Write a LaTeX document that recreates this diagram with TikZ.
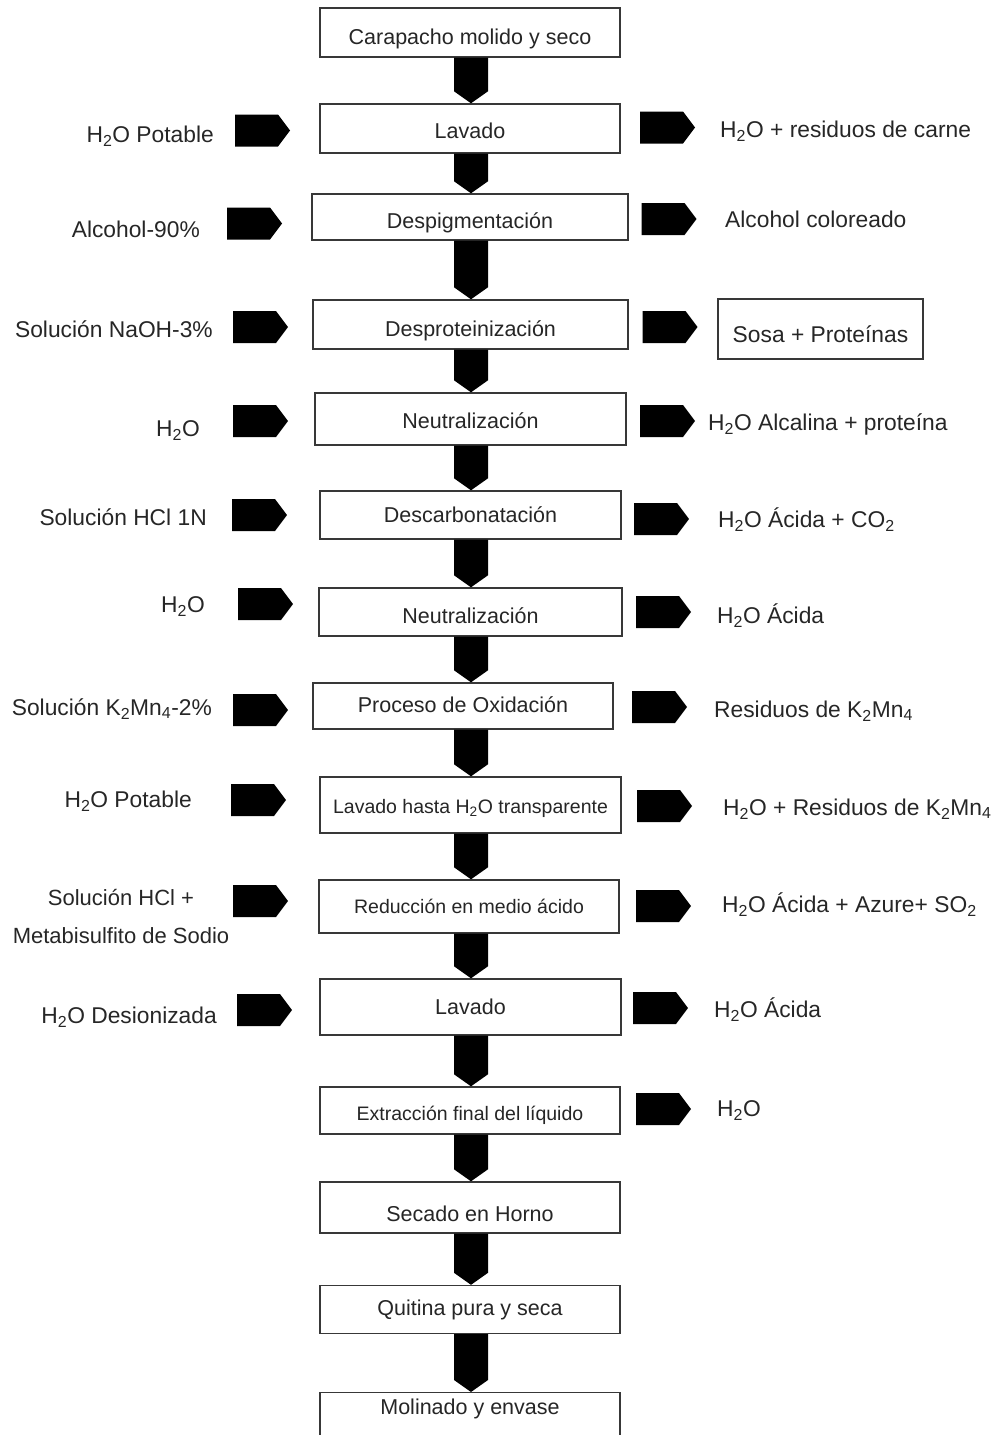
\documentclass[tikz,border=0pt]{standalone}
\usepackage{fontspec}
\setmainfont{Liberation Sans}
\usetikzlibrary{calc}
\definecolor{txt}{HTML}{262626}
\definecolor{boxline}{HTML}{383838}
\tikzset{
  procbox/.style={draw=boxline, line width=1.4pt, fill=white, text=txt, inner sep=0pt,
    font=\fontsize{21.5}{24}\selectfont, text height=15.5pt, text depth=0pt},
  smallproc/.style={procbox, font=\fontsize{19.5}{22}\selectfont},
  sidelbl/.style={text=txt, inner sep=0pt, font=\fontsize{22.8}{38}\selectfont},
  blockarrow/.style={fill=black},
}
\newcommand\downarr[2]{\fill[blockarrow] let \p1=(#1.south), \p2=(#2.north) in
  (454pt,\y1) -- (488pt,\y1) -- (488pt,\y2+12pt) -- (471pt,\y2) -- (454pt,\y2+12pt) -- cycle;}
\newcommand\sidearr[2]{\fill[blockarrow] (#1,#2-16) -- (#1+43,#2-16) -- (#1+55,#2) -- (#1+43,#2+16) -- (#1,#2+16) -- cycle;}
\begin{document}
\begin{tikzpicture}[x=1pt,y=-1pt]
\useasboundingbox (0,0) rectangle (995,1435);
% process boxes
\node[procbox, minimum width=300pt, minimum height=49pt, text height=24pt] (b1) at (470,32.5) {Carapacho molido y seco};
\node[procbox, minimum width=300pt, minimum height=49pt, text height=20pt] (b2) at (470,128.5) {Lavado};
\node[procbox, minimum width=316pt, minimum height=46pt, text height=23pt] (b3) at (470,217) {Despigmentación};
\node[procbox, minimum width=315pt, minimum height=49pt, text height=23pt] (b4) at (470.5,324.5) {Desproteinización};
\node[procbox, minimum width=311pt, minimum height=52pt, text height=18.6pt] (b5) at (470.5,419) {Neutralización};
\node[procbox, minimum width=301pt, minimum height=48pt, text height=15.4pt] (b6) at (470.5,515) {Descarbonatación};
\node[procbox, minimum width=303pt, minimum height=48pt, text height=22.6pt] (b7) at (470.5,612) {Neutralización};
\node[procbox, minimum width=300pt, minimum height=46pt, text height=13.4pt] (b8) at (463,706) {Proceso de Oxidación};
\node[smallproc, minimum width=301pt, minimum height=56pt, text height=16pt] (b9) at (470.5,805) {Lavado hasta H\textsubscript{2}O transparente};
\node[smallproc, minimum width=300pt, minimum height=53pt, text height=13.6pt] (b10) at (469,906.5) {Reducción en medio ácido};
\node[procbox, minimum width=301pt, minimum height=56pt, text height=14pt] (b11) at (470.5,1007) {Lavado};
\node[smallproc, minimum width=300pt, minimum height=47pt, text height=19.6pt] (b12) at (470,1110.5) {Extracción final del líquido};
\node[procbox, minimum width=300pt, minimum height=51pt, text height=28pt] (b13) at (470,1207.5) {Secado en Horno};
\node[procbox, minimum width=300pt, minimum height=48pt, text height=11pt] (b14) at (470,1309.5) {Quitina pura y seca};
\node[procbox, minimum width=300pt, anchor=north, inner ysep=7pt, text height=15pt, text depth=20pt] (b15) at (470,1392) {Molinado y envase};
% vertical block arrows
\downarr{b1}{b2}
\downarr{b2}{b3}
\downarr{b3}{b4}
\downarr{b4}{b5}
\downarr{b5}{b6}
\downarr{b6}{b7}
\downarr{b7}{b8}
\downarr{b8}{b9}
\downarr{b9}{b10}
\downarr{b10}{b11}
\downarr{b11}{b12}
\downarr{b12}{b13}
\downarr{b13}{b14}
\downarr{b14}{b15}
% left inputs
\node[sidelbl, anchor=base east] (l1) at (214,142) {H\textsubscript{2}O Potable};
\node[sidelbl, anchor=base east] (l2) at (200,237) {Alcohol-90\%};
\node[sidelbl, anchor=base east] (l3) at (213,337) {Solución NaOH-3\%};
\node[sidelbl, anchor=base east] (l4) at (200,436) {H\textsubscript{2}O};
\node[sidelbl, anchor=base east] (l5) at (207,525) {Solución HCl 1N};
\node[sidelbl, anchor=base east] (l6) at (205,612) {H\textsubscript{2}O};
\node[sidelbl, anchor=base east] (l7) at (212,715) {Solución K\textsubscript{2}Mn\textsubscript{4}-2\%};
\node[sidelbl, anchor=base east] (l8) at (192,807) {H\textsubscript{2}O Potable};
\node[sidelbl, anchor=base, align=center, font=\fontsize{22}{38}\selectfont] (l9) at (121,943) {Solución HCl +\\Metabisulfito de Sodio};
\node[sidelbl, anchor=base east] (l10) at (217,1023) {H\textsubscript{2}O Desionizada};
\sidearr{235}{130.5}
\sidearr{227}{223.5}
\sidearr{233}{327}
\sidearr{233}{421}
\sidearr{232}{515}
\sidearr{238}{604}
\sidearr{233}{710}
\sidearr{231}{800}
\sidearr{233}{901}
\sidearr{237}{1010}
% right outputs
\node[sidelbl, anchor=base west] (r1) at (720,137) {H\textsubscript{2}O + residuos de carne};
\node[sidelbl, anchor=base west] (r2) at (725,227) {Alcohol coloreado};
\node[sidelbl, draw=boxline, line width=1.4pt, minimum width=205pt, minimum height=60pt, text height=26pt, text depth=0pt] (r3) at (820.5,329) {Sosa + Proteínas};
\node[sidelbl, anchor=base west] (r4) at (708,430) {H\textsubscript{2}O Alcalina + proteína};
\node[sidelbl, anchor=base west] (r5) at (718,527) {H\textsubscript{2}O Ácida + CO\textsubscript{2}};
\node[sidelbl, anchor=base west] (r6) at (717,623) {H\textsubscript{2}O Ácida};
\node[sidelbl, anchor=base west] (r7) at (714,717) {Residuos de K\textsubscript{2}Mn\textsubscript{4}};
\node[sidelbl, anchor=base west] (r8) at (723,815) {H\textsubscript{2}O + Residuos de K\textsubscript{2}Mn\textsubscript{4}};
\node[sidelbl, anchor=base west] (r9) at (722,912) {H\textsubscript{2}O Ácida + Azure+ SO\textsubscript{2}};
\node[sidelbl, anchor=base west] (r10) at (714,1017) {H\textsubscript{2}O Ácida};
\node[sidelbl, anchor=base west] (r11) at (717,1116) {H\textsubscript{2}O};
\sidearr{640}{127.5}
\sidearr{641.5}{219}
\sidearr{642.5}{327}
\sidearr{640}{421}
\sidearr{634}{519}
\sidearr{636}{612}
\sidearr{632}{707}
\sidearr{637}{806}
\sidearr{636}{906}
\sidearr{633}{1008}
\sidearr{636}{1109}
\end{tikzpicture}
\end{document}
